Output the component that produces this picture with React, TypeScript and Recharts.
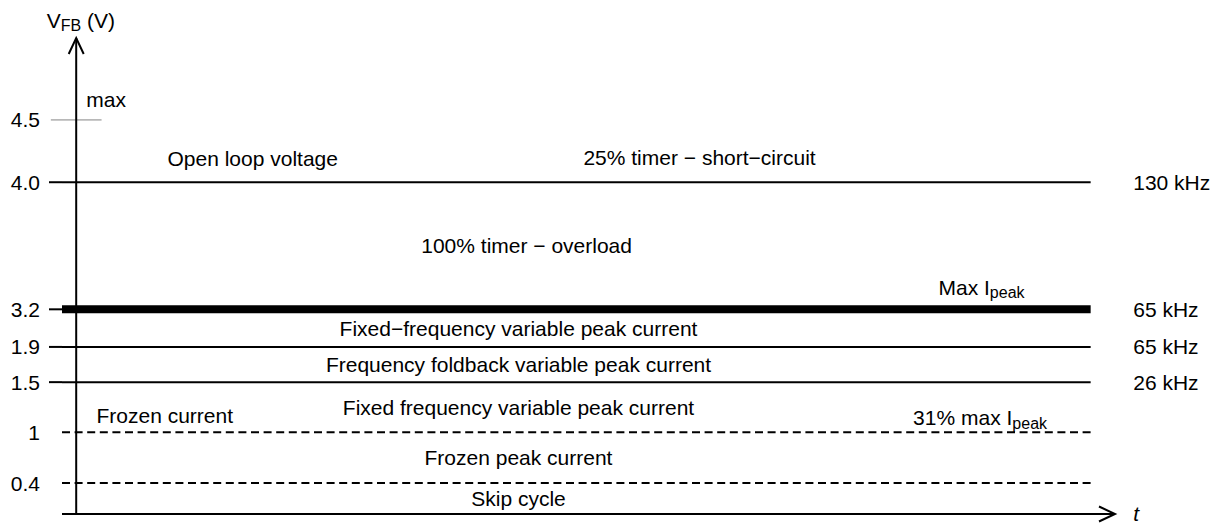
import { ComposedChart, Line, XAxis, YAxis, ReferenceLine, ReferenceDot } from 'recharts';

// V_FB thresholds, top to bottom
const levels = [4.5, 4.0, 3.2, 1.9, 1.5, 1, 0.4];
const levelTicks = ['4.5', '4.0', '3.2', '1.9', '1.5', '1', '0.4'];
const levelKinds = ['max', 'solid', 'bold', 'solid', 'solid', 'dashed', 'dashed'];
const levelFreqs = ['', '130 kHz', '65 kHz', '65 kHz', '26 kHz', '', ''];

// operating regions between two thresholds
const regionLow = [3.2, 1.9, 1.5, 1, 0.4, 0];
const regionHigh = [4.0, 3.2, 1.9, 1.5, 1, 0.4];
const regionNames = [
  '100% timer − overload',
  'Fixed−frequency variable peak current',
  'Frequency foldback variable peak current',
  'Fixed frequency variable peak current',
  'Frozen peak current',
  'Skip cycle',
];
const regionTimes = [44.4, 43.6, 43.6, 43.6, 43.6, 43.6];

// notes written just above a threshold line (time = where the note starts)
const noteLevels = [4.5, 4.0, 4.0, 3.2, 1, 1];
const noteTimes = [1, 9, 50, 85, 82.5, 2];
const noteTexts = ['max', 'Open loop voltage', '25% timer − short−circuit', 'Max I', '31% max I', 'Frozen current'];
const noteSubs = ['', '', '', 'peak', 'peak', ''];

// the sketch's V_FB axis is not to scale: break points of a piecewise axis
const AXIS_V = [0, 0.4, 1, 1.5, 1.9, 3.2, 4.0, 4.5];
const AXIS_U = [0, 6.5, 17.2, 27.7, 35.1, 43.0, 69.7, 82.8];
const U_TOP = 100;

// time axis (arbitrary units, y axis sits at t = 0)
const T_RANGE: [number, number] = [-1.4, 102.4];
const T_END = 100;
const T_RIGHT = 104.2;
const T_TITLE = -2.9;

// layout / style
const FONT = '"Liberation Sans", Arial, Helvetica, sans-serif';
const FS = 21;
const SUB_FS = 16;
const NOTE_LIFT = [20, 24, 24.5, 22, 14.5, 16.5];
const TICK_SIZE = 13;
const TICK_MARGIN = 9;

function warp(v: number): number {
  const n = AXIS_V.length;
  for (let i = 1; i < n; i++) {
    if (v <= AXIS_V[i] || i === n - 1) {
      const f = (v - AXIS_V[i - 1]) / (AXIS_V[i] - AXIS_V[i - 1]);
      return AXIS_U[i - 1] + f * (AXIS_U[i] - AXIS_U[i - 1]);
    }
  }
  return v;
}

const Txt = ({ x, y, text, sub, tail, anchor = 'start', italic = false }: any) => (
  <text
    x={x}
    y={y}
    textAnchor={anchor}
    dominantBaseline="central"
    fontFamily={FONT}
    fontSize={FS}
    fontStyle={italic ? 'italic' : 'normal'}
    fill="#000"
  >
    {text}
    {sub ? (
      <tspan dy={5} fontSize={SUB_FS}>
        {sub}
      </tspan>
    ) : null}
    {tail ? (
      <tspan dy={-5} fontSize={FS}>
        {tail}
      </tspan>
    ) : null}
  </text>
);

const LevelTick = (props: any) => {
  const { x, y, payload } = props;
  const i = levels.findIndex((v) => Math.abs(warp(v) - payload.value) < 1e-6);
  if (i < 0) return null;
  const k = levelKinds[i];
  const withTick = k === 'solid' || k === 'bold';
  return (
    <g>
      {withTick && (
        <line
          x1={x + TICK_MARGIN}
          x2={x + TICK_MARGIN + TICK_SIZE}
          y1={y}
          y2={y}
          stroke="#000"
          strokeWidth={2}
        />
      )}
      <Txt x={x} y={y} text={levelTicks[i]} anchor="end" />
    </g>
  );
};

const Arrow = (p: any) => {
  const { x1, y1, x2, y2 } = p;
  const len = Math.hypot(x2 - x1, y2 - y1) || 1;
  const ux = (x2 - x1) / len;
  const uy = (y2 - y1) / len;
  const bx = x2 - ux * 16;
  const by = y2 - uy * 16;
  const px = -uy * 7.5;
  const py = ux * 7.5;
  return (
    <g>
      <line x1={x1} y1={y1} x2={x2} y2={y2} stroke="#000" strokeWidth={2} />
      <polyline
        points={`${bx + px},${by + py} ${x2},${y2} ${bx - px},${by - py}`}
        fill="none"
        stroke="#000"
        strokeWidth={2}
      />
    </g>
  );
};

const lineWidth = (k: string) => (k === 'bold' ? 8 : 2);

export default function App() {
  return (
    <div style={{ position: 'absolute', left: 0, top: 0, width: 1220, height: 525, background: '#fff' }}>
      <ComposedChart width={1220} height={525} margin={{ top: 38, right: 105, bottom: 11, left: 0 }}>
        <XAxis type="number" dataKey="t" domain={T_RANGE} hide />
        <YAxis
          type="number"
          domain={[0, U_TOP]}
          ticks={levels.map(warp)}
          interval={0}
          width={62}
          axisLine={false}
          tickLine={false}
          tickSize={TICK_SIZE}
          tickMargin={TICK_MARGIN}
          tick={<LevelTick />}
        />

        {/* short grey "max" mark across the axis */}
        {levels.map((v, i) =>
          levelKinds[i] === 'max' ? (
            <ReferenceLine
              key={`max-${i}`}
              segment={[
                { x: -2.5, y: warp(v) },
                { x: 2.5, y: warp(v) },
              ]}
              stroke="#b8b8b8"
              strokeWidth={1.6}
              ifOverflow="visible"
            />
          ) : null
        )}

        {levels.map((v, i) =>
          levelKinds[i] === 'max' ? null : (
            <Line
              key={`lvl-${i}`}
              data={[
                { t: T_RANGE[0], u: warp(v) },
                { t: T_END, u: warp(v) },
              ]}
              dataKey="u"
              stroke="#000"
              strokeWidth={lineWidth(levelKinds[i])}
              strokeDasharray={levelKinds[i] === 'dashed' ? '8 4.6' : undefined}
              dot={false}
              activeDot={false}
              isAnimationActive={false}
            />
          )
        )}

        {/* axes drawn as arrows */}
        <ReferenceLine
          segment={[
            { x: T_RANGE[0], y: 0 },
            { x: T_RANGE[1], y: 0 },
          ]}
          shape={Arrow}
          ifOverflow="visible"
        />
        <ReferenceLine
          segment={[
            { x: 0, y: 0 },
            { x: 0, y: U_TOP },
          ]}
          shape={Arrow}
          ifOverflow="visible"
        />

        <ReferenceDot
          x={T_TITLE}
          y={U_TOP}
          r={0}
          ifOverflow="visible"
          shape={(p: any) => <Txt x={p.cx} y={p.cy - 18} text="V" sub="FB" tail=" (V)" />}
        />
        <ReferenceDot
          x={T_RIGHT}
          y={0}
          r={0}
          ifOverflow="visible"
          shape={(p: any) => <Txt x={p.cx} y={p.cy - 1} text="t" italic />}
        />

        {levels.map((v, i) =>
          levelFreqs[i] ? (
            <ReferenceDot
              key={`f-${i}`}
              x={T_RIGHT}
              y={warp(v)}
              r={0}
              ifOverflow="visible"
              shape={(p: any) => <Txt x={p.cx} y={p.cy} text={levelFreqs[i]} />}
            />
          ) : null
        )}

        {regionNames.map((name, i) => (
          <ReferenceDot
            key={`r-${i}`}
            x={regionTimes[i]}
            y={(warp(regionLow[i]) + warp(regionHigh[i])) / 2}
            r={0}
            ifOverflow="visible"
            shape={(p: any) => <Txt x={p.cx} y={p.cy} text={name} anchor="middle" />}
          />
        ))}

        {noteTexts.map((txt, i) => (
          <ReferenceDot
            key={`n-${i}`}
            x={noteTimes[i]}
            y={warp(noteLevels[i])}
            r={0}
            ifOverflow="visible"
            shape={(p: any) => <Txt x={p.cx} y={p.cy - NOTE_LIFT[i]} text={txt} sub={noteSubs[i]} />}
          />
        ))}
      </ComposedChart>
    </div>
  );
}
